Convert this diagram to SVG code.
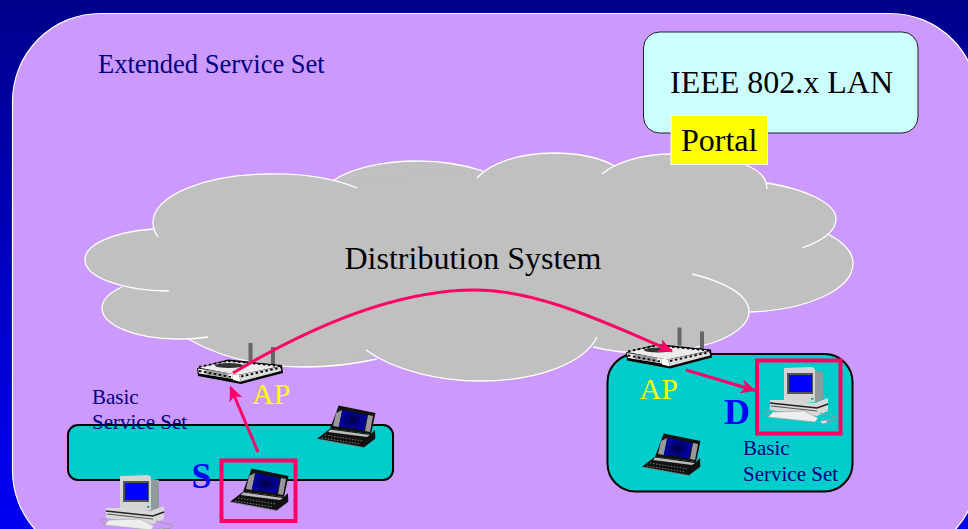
<svg xmlns="http://www.w3.org/2000/svg" xmlns:xlink="http://www.w3.org/1999/xlink" width="968" height="529" viewBox="0 0 968 529">
<style>
text{font-family:"Liberation Serif","Times New Roman",serif}
.big{font-size:32px;fill:#000}
.ap{font-size:30px;fill:#ffff00}
.sd{font-size:36px;font-weight:bold;fill:#0000ff}
.set{font-size:21px;fill:#000080}
.bss{fill:#00cccc;stroke:#000;stroke-width:2}
.hl{fill:none;stroke:#ff0066;stroke-width:4}
.conn{fill:none;stroke:#ff0066;stroke-width:3;marker-end:url(#head)}
.lobes{fill:#c0c0c0;stroke:none}
.edges{fill:none;stroke:#fff;stroke-width:1.3}
</style>
<defs>
<linearGradient id="bg" x1="0" y1="0" x2="0" y2="1"><stop offset="0" stop-color="#00008b"/><stop offset="1" stop-color="#0000f5"/></linearGradient>
<radialGradient id="lcd"><stop offset="0" stop-color="#000040"/><stop offset="1" stop-color="#0000b0"/></radialGradient>
<marker id="head" markerUnits="userSpaceOnUse" markerWidth="16" markerHeight="16" viewBox="0 0 16 16" refX="14" refY="8" orient="auto"><path d="M0 1 L15 8 L0 15 L4 8 Z" fill="#ff0066"/></marker>
<g id="lobeset">
<path d="M158 237 A117 48 0 0 1 153 222 A117 48 0 0 1 270 174 A117 48 0 0 1 357 188"/>
<path d="M153 229 A84 31 0 0 0 85 260 A84 31 0 0 0 169 291"/>
<path d="M122 287 A75 31 0 0 0 102 308 A75 31 0 0 0 177 339 A75 31 0 0 0 208 337"/>
<path d="M188 339 C220 357 260 367 303 367 C330 367 355 364 377 359"/>
<path d="M366 350 C395 371 440 381 480 381 C540 381 585 362 597 337"/>
<path d="M593 347 C640 358 680 353 712 343 C730 337 749 326 749 312 C749 295 725 282 692 274"/>
<path d="M750 312 C805 310 853 291 853 263 C853 252 843 242 828 234"/>
<path d="M802 248 C822 241 836 231 836 219 C836 203 805 189 767 183"/>
<path d="M767 189 C767 175 755 168 743 164 C725 157 700 154 673 154 C640 154 615 163 602 174"/>
<path d="M615 166 C600 158 578 153 553 153 C520 153 490 163 477 178"/>
<path d="M483 171 C465 165 440 161 417 161 C385 161 350 168 333 181"/>
</g>
<g id="router">
<rect x="248.500" y="343" width="4" height="18" fill="#666"/>
<rect x="271" y="347" width="4" height="18" fill="#666"/>
<path d="M197 368 L228 359.500 L282 365 L283 373 L241 384 L198 376 Z" fill="#000"/>
<path d="M198 367.500 L228 361 L281 366 L238 375 Z" fill="#ececec"/>
<path d="M198 368.500 L232 374 L233 379 L199 373.500 Z" fill="#f4f4f4"/>
<path d="M232 374 L239 375 L241 382 L233 380 Z" fill="#fff"/>
<path d="M239 375 L281 366.500 L281 371 L241 381.500 Z" fill="#dcdcdc"/>
<path d="M205 369.500 L228 373 L228 378 L206 374.500 Z" fill="#9a9a9a"/>
<ellipse cx="229" cy="365.500" rx="14" ry="2.500" fill="#333"/>
<path d="M199 367 L228 361 M228 361 L280 366 M241 376.500 L281 367.500 M199 371 L231 377" stroke="#000" stroke-width="1.800" stroke-dasharray="2.500 2.500" fill="none"/>
</g>
<g id="pc">
<path d="M813 370 L823 372 L823 400 L813 403 Z" fill="#8f9a9a"/>
<path d="M784 368 L812 367 L815 369 L815 402 L784 402 Z" fill="#d4d4d4"/>
<rect x="787" y="373" width="26" height="21" fill="#555"/>
<rect x="789" y="375" width="23" height="17" fill="#0000ff"/>
<rect x="811" y="398" width="2.500" height="1.500" fill="#00a050"/>
<path d="M770 400 L785 400 L815 403 L828 398 L828 411 L817 416 L770 410 Z" fill="#d8d8d8"/>
<path d="M770 403 L817 408 L828 404" stroke="#222" stroke-width="1.500" fill="none"/>
<path d="M771 406 L817 411" stroke="#555" stroke-width="1" fill="none"/>
<path d="M773 412 L804 411 L818 418 L815 422 L768 417 Z" fill="#eee" stroke="#aaa" stroke-width=".7"/>
<path d="M770 416 Q762 413 766 411 L771 411 M826 421 Q838 421 836 417 L820 413" fill="none" stroke="#999" stroke-width="1"/>
<path d="M820 421 L827 420 L827 423 L822 424 Z" fill="#ddd" stroke="#888" stroke-width=".5"/>
</g>
<g id="laptop">
<path d="M251.700 468.500 L288.500 476 L284 497 L243 491.700 Z" fill="#111"/>
<path d="M249 476 L255 473 L252 490 L246 489 Z M281 478 L286 479 L283 495 L278 494 Z" fill="#999"/>
<path d="M255.700 473.300 L280 478.300 L276.700 493.300 L251.700 489.300 Z" fill="url(#lcd)"/>
<path d="M243 491.700 L284 497 L288 493 L288.300 501.700 L276.700 510.500 L230 501.700 Z" fill="#111"/>
<path d="M243 492.500 L283 498 L280 500 L241 495 Z" fill="#bbb"/>
<path d="M238 498 L276 504 M235 501 L273 507" stroke="#777" stroke-width="1" stroke-dasharray="1.500 1.500" fill="none"/>
<path d="M230 502 L277 510.500" stroke="#888" stroke-width=".7" fill="none"/>
</g>
</defs>

<rect width="968" height="529" fill="url(#bg)"/>
<rect id="ess" x="12.500" y="13.500" width="965.500" height="545" rx="88" ry="88" fill="#cc99ff" stroke="#fff" stroke-width="1.200"/>
<text id="ess-label" x="98" y="73" font-size="26.500" fill="#000080">Extended Service Set</text>

<g id="bss-left"><rect class="bss" x="68" y="425" width="325" height="55" rx="10"/></g>
<g id="bss-right"><rect class="bss" x="607.500" y="354" width="245" height="137.500" rx="28"/></g>

<g id="distribution-system">
<path class="lobes" d="M158 237 L270 190 L333 181 L483 171 L615 166 L743 175 L767 183 L836 219 L828 234 L853 263 L750 312 L712 343 L593 346 L480 370 L377 357 L303 360 L188 339 L122 287 L153 229 Z"/>
<use href="#lobeset" xlink:href="#lobeset" class="lobes"/>
<use href="#lobeset" xlink:href="#lobeset" class="edges"/>
<text class="big" x="344.500" y="269">Distribution System</text>
</g>

<g id="lan">
<rect x="643.500" y="32" width="274.500" height="101" rx="16" fill="#ccffff" stroke="#222" stroke-width="1"/>
<text class="big" x="670" y="93">IEEE 802.x LAN</text>
</g>
<g id="portal">
<rect x="671" y="115.500" width="96.500" height="49" fill="#ffff00" stroke="#fff" stroke-width="1"/>
<text class="big" x="681" y="151">Portal</text>
</g>

<g id="bss-left-label"><text class="set" x="92" y="404">Basic</text><text class="set" x="92" y="429">Service Set</text></g>
<g id="bss-right-label"><text class="set" x="743" y="455">Basic</text><text class="set" x="743" y="481">Service Set</text></g>

<g id="ap-left"><use href="#router" xlink:href="#router"/><text class="ap" x="252" y="404">AP</text></g>
<g id="ap-right"><use href="#router" xlink:href="#router" x="429" y="-15.500"/><text class="ap" x="639.500" y="399">AP</text></g>

<g id="station-s"><use href="#laptop" xlink:href="#laptop"/><rect class="hl" x="221.500" y="460.500" width="74" height="60.500"/><text class="sd" x="191.500" y="488">S</text></g>
<g id="laptop-2"><use href="#laptop" xlink:href="#laptop" x="87" y="-63"/></g>
<g id="laptop-3"><use href="#laptop" xlink:href="#laptop" x="412" y="-35"/></g>
<g id="pc-left"><use href="#pc" xlink:href="#pc" x="-664" y="108"/></g>
<g id="station-d"><use href="#pc" xlink:href="#pc"/><rect class="hl" x="757" y="360.500" width="83.500" height="73"/><text class="sd" x="724" y="424">D</text></g>

<g id="connectors">
<path class="conn" d="M258 452 L230.500 387"/>
<path class="conn" d="M233 373 C300 333 390 290 475 290 C540 290 610 325 672 351"/>
<path class="conn" d="M686 370 L755 390.500"/>
</g>
</svg>
